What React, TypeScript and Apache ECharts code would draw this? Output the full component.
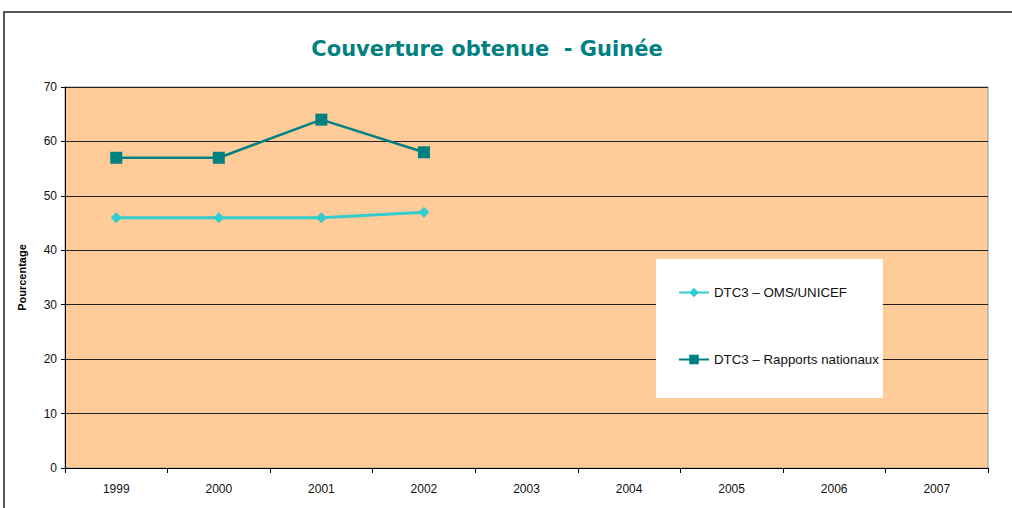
import React, { useEffect, useRef } from "react";
import * as echarts from "echarts";

const years = ["1999", "2000", "2001", "2002", "2003", "2004", "2005", "2006", "2007"];
const omsUnicef = [46, 46, 46, 47];
const rapportsNationaux = [57, 57, 64, 58];
const seriesNames = ["DTC3 – OMS/UNICEF", "DTC3 – Rapports nationaux"];

export default function App() {
  const ref = useRef<HTMLDivElement>(null);
  useEffect(() => {
    const chart = echarts.init(ref.current!, null, { renderer: "svg" });
    chart.setOption({
      animation: false,
      backgroundColor: "#ffffff",
      title: {
        text: "Couverture obtenue  - Guinée",
        left: 482,
        textAlign: "center",
        top: 33,
        textStyle: { color: "#008080", fontSize: 21, fontWeight: "bold", fontFamily: "DejaVu Sans" },
      },
      graphic: [
        {
          type: "rect",
          shape: { x: 4, y: 12, width: 1020, height: 520 },
          style: { fill: "none", stroke: "#222", lineWidth: 1.5 },
          z: 10,
          silent: true,
        },
      ],
      grid: {
        left: 65,
        right: 1012 - 988,
        top: 87,
        bottom: 508 - 468,
        show: true,
        backgroundColor: "#FFCC99",
        borderColor: "#999",
        borderWidth: 1,
      },
      legend: {
        left: 656,
        top: 259,
        orient: "vertical",
        backgroundColor: "#ffffff",
        padding: [27, 4, 32, 22],
        itemGap: 54,
        itemWidth: 30,
        itemHeight: 12,
        textStyle: { fontFamily: "Liberation Sans", fontSize: 13.3, color: "#111" },
        data: seriesNames,
      },
      xAxis: {
        type: "category",
        data: years,
        boundaryGap: true,
        axisLine: { lineStyle: { color: "#000", width: 1 } },
        axisTick: { show: true, length: 5, lineStyle: { color: "#000" } },
        axisLabel: { fontFamily: "Liberation Sans", fontSize: 12, color: "#111", margin: 15 },
        splitLine: { show: false },
      },
      yAxis: {
        type: "value",
        min: 0,
        max: 70,
        interval: 10,
        name: "Pourcentage",
        nameLocation: "middle",
        nameRotate: 90,
        nameGap: 38,
        nameTextStyle: { fontFamily: "Liberation Sans", fontSize: 11, fontWeight: "bold", color: "#000" },
        axisLine: { show: true, lineStyle: { color: "#000", width: 1 } },
        axisTick: { show: true, length: 4, lineStyle: { color: "#000" } },
        axisLabel: { fontFamily: "Liberation Sans", fontSize: 12, color: "#111", margin: 8 },
        splitLine: { show: true, lineStyle: { color: "#222", width: 1 } },
      },
      series: [
        {
          name: seriesNames[0],
          type: "line",
          data: omsUnicef,
          symbol: "diamond",
          symbolSize: 11,
          lineStyle: { color: "#33CCCC", width: 3 },
          itemStyle: { color: "#33CCCC" },
        },
        {
          name: seriesNames[1],
          type: "line",
          data: rapportsNationaux,
          symbol: "rect",
          symbolSize: 12,
          lineStyle: { color: "#008080", width: 2.5 },
          itemStyle: { color: "#008080" },
        },
      ],
    });
    return () => chart.dispose();
  }, []);
  return (
    <div
      ref={ref}
      style={{ position: "fixed", left: 0, top: 0, width: 1012, height: 508 }}
    />
  );
}
